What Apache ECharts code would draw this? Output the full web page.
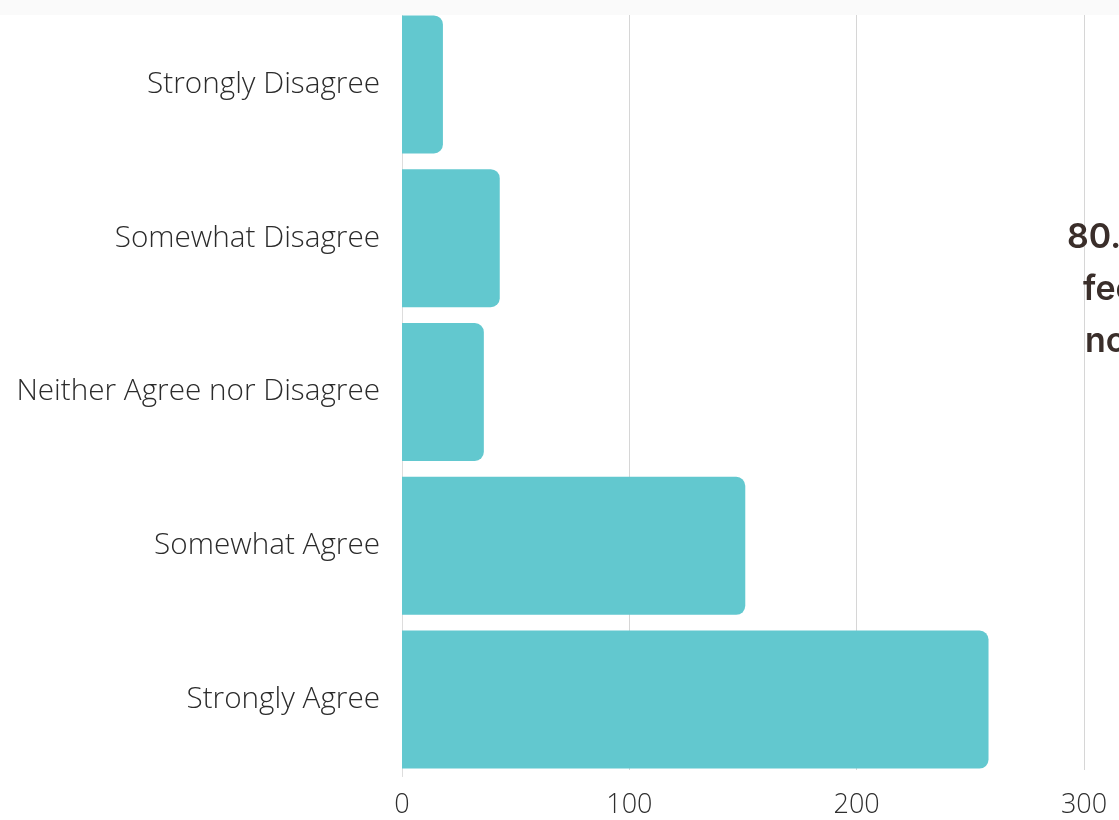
<!DOCTYPE html>
<html>
<head>
<meta charset="utf-8">
<script src="https://cdn.jsdelivr.net/npm/echarts@6/dist/echarts.min.js"></script>
<style>
  html, body { margin: 0; padding: 0; background: #fafafa; }
  #main { width: 1119px; height: 820px; }
</style>
</head>
<body>
<div id="main"></div>
<script>
var chart = echarts.init(document.getElementById('main'));

// answers, top to bottom
var categories = ['Strongly Disagree', 'Somewhat Disagree', 'Neither Agree nor Disagree', 'Somewhat Agree', 'Strongly Agree'];
var counts = [18, 43, 36, 151, 258];
var xTicks = [0, 100, 200, 300];
// side note, cut off by the right edge
var noteLines = ['80.5%', 'feel', 'not'];

var option = {
  backgroundColor: '#ffffff',
  animation: false,
  grid: {
    left: 402,
    right: 35,
    top: 7.5,
    bottom: 43.5
  },
  xAxis: {
    type: 'value',
    min: xTicks[0],
    max: xTicks[xTicks.length - 1],
    interval: 100,
    axisLine: { show: false },
    axisTick: { show: false },
    splitLine: { show: true, lineStyle: { color: '#d6d6d6', width: 1 } },
    axisLabel: {
      margin: 15,
      color: '#2e2e2e',
      fontFamily: 'Open Sans',
      fontWeight: 300,
      fontSize: 27
    }
  },
  yAxis: {
    type: 'category',
    inverse: true,
    data: categories,
    axisLine: { show: true, lineStyle: { color: '#dddddd', width: 1 } },
    axisTick: { show: false },
    axisLabel: {
      margin: 22,
      color: '#2b2b2b',
      fontFamily: 'Open Sans',
      fontWeight: 300,
      fontSize: 29.7,
      padding: [8, 0, 0, 0]
    }
  },
  series: [{
    type: 'bar',
    data: counts,
    barWidth: 138,
    itemStyle: {
      color: '#62c8cf',
      borderRadius: [0, 9, 9, 0]
    }
  }],
  graphic: [
    // light page strip above the chart
    { type: 'rect', left: 0, top: 0, shape: { width: 1119, height: 15 }, style: { fill: '#fafafa' }, z: 100 },
    // trim the gridlines below the last bar
    { type: 'rect', left: 403, top: 770, shape: { width: 716, height: 8 }, style: { fill: '#ffffff' }, z: 100 },
    { type: 'text', left: 1067, top: 221, style: { text: noteLines[0], fill: '#3a2e2a', font: '600 34px Inter' }, z: 100 },
    { type: 'text', left: 1083, top: 273, style: { text: noteLines[1], fill: '#3a2e2a', font: '600 34px Inter' }, z: 100 },
    { type: 'text', left: 1085, top: 325, style: { text: noteLines[2], fill: '#3a2e2a', font: '600 34px Inter' }, z: 100 }
  ]
};

chart.setOption(option);
</script>
</body>
</html>
